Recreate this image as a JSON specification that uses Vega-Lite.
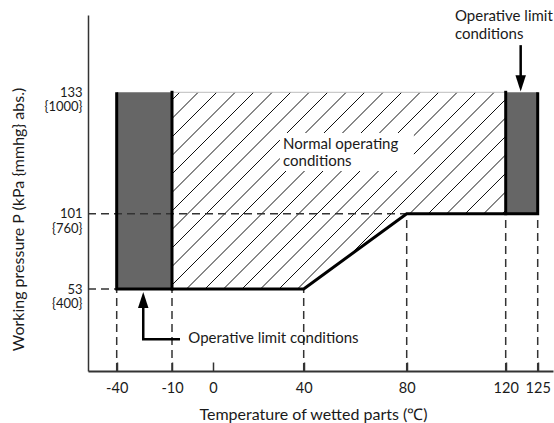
{
  "$schema": "https://vega.github.io/schema/vega-lite/v6.json",
  "width": 465,
  "height": 356,
  "autosize": {"type": "none"},
  "padding": {"left": 88, "top": 15, "right": 1, "bottom": 52},
  "background": "white",
  "config": {"font": "Lato", "view": {"stroke": null}},
  "datasets": {
    "gray": [
      {"x": -40, "x2": -10, "y": 53, "y2": 133},
      {"x": 120, "x2": 125, "y": 101, "y2": 133}
    ],
    "hatch": [
      {"x": -8.12, "y": 133, "x2": -10, "y2": 130.97},
      {"x": -3.61, "y": 133, "x2": -10, "y2": 126.09},
      {"x": 1.63, "y": 133, "x2": -10, "y2": 121.22},
      {"x": 9.79, "y": 133, "x2": -10, "y2": 116.34},
      {"x": 17.95, "y": 133, "x2": -10, "y2": 111.46},
      {"x": 26.11, "y": 133, "x2": -10, "y2": 106.59},
      {"x": 34.27, "y": 133, "x2": -10, "y2": 101.71},
      {"x": 42.14, "y": 133, "x2": -10, "y2": 90.93},
      {"x": 49.32, "y": 133, "x2": -10, "y2": 79.14},
      {"x": 56.5, "y": 133, "x2": -10, "y2": 67.34},
      {"x": 63.69, "y": 133, "x2": -10, "y2": 55.55},
      {"x": 70.87, "y": 133, "x2": -6.46, "y2": 53},
      {"x": 78.06, "y": 133, "x2": -1.95, "y2": 53},
      {"x": 85.45, "y": 133, "x2": 4.63, "y2": 53},
      {"x": 92.93, "y": 133, "x2": 12.79, "y2": 53},
      {"x": 100.4, "y": 133, "x2": 20.95, "y2": 53},
      {"x": 107.88, "y": 133, "x2": 29.11, "y2": 53},
      {"x": 115.35, "y": 133, "x2": 37.27, "y2": 53},
      {"x": 120, "y": 131.15, "x2": 57.76, "y2": 74.31},
      {"x": 120, "y": 126.28, "x2": 81.25, "y2": 101},
      {"x": 120, "y": 121.4, "x2": 88.73, "y2": 101},
      {"x": 120, "y": 116.53, "x2": 96.2, "y2": 101},
      {"x": 120, "y": 111.65, "x2": 103.68, "y2": 101},
      {"x": 120, "y": 106.77, "x2": 111.15, "y2": 101},
      {"x": 120, "y": 101.9, "x2": 118.63, "y2": 101}
    ],
    "topedge": [{"x": -10, "x2": 120, "y": 133, "y2": 133}],
    "clear": [{"x": 29.5, "x2": 82.9, "y": 112.25, "y2": 122.27}],
    "dash": [
      {"x": -55.6, "x2": 80, "y": 101, "y2": 101},
      {"x": -55.6, "x2": -40, "y": 53, "y2": 53},
      {"x": -40, "x2": -40, "y": 0, "y2": 53},
      {"x": -10, "x2": -10, "y": 0, "y2": 53},
      {"x": 40, "x2": 40, "y": 0, "y2": 53},
      {"x": 80, "x2": 80, "y": 0, "y2": 101},
      {"x": 120, "x2": 120, "y": 0, "y2": 101},
      {"x": 125, "x2": 125, "y": 0, "y2": 101}
    ],
    "edges": [
      {"x": -10, "x2": -10, "y": 53, "y2": 133},
      {"x": 120, "x2": 120, "y": 101, "y2": 133}
    ],
    "outline": [
      {"o": 1, "x": -40, "y": 133},
      {"o": 2, "x": -40, "y": 53},
      {"o": 3, "x": 40, "y": 53},
      {"o": 4, "x": 80, "y": 101},
      {"o": 5, "x": 125, "y": 101},
      {"o": 6, "x": 125, "y": 133}
    ],
    "shafts": [
      {"g": "a", "o": 1, "x": -8.05, "y": 20.5},
      {"g": "a", "o": 2, "x": -25.6, "y": 20.5},
      {"g": "a", "o": 3, "x": -25.6, "y": 41.5},
      {"g": "b", "o": 1, "x": 122.34, "y": 145.2},
      {"g": "b", "o": 2, "x": 122.34, "y": 136.5}
    ],
    "heads": [
      {"dir": "up", "x": -25.6, "y": 45.9},
      {"dir": "down", "x": 122.34, "y": 135.3}
    ],
    "labels": [
      {"x": 30.87, "y": 119.5, "label": "Normal operating"},
      {"x": 30.87, "y": 114.9, "label": "conditions"},
      {"x": 99.5, "y": 152.87, "label": "Operative limit"},
      {"x": 99.5, "y": 148.08, "label": "conditions"},
      {"x": -6.02, "y": 21.1, "label": "Operative limit conditions"}
    ]
  },
  "encoding": {
    "x": {
      "field": "x",
      "type": "quantitative",
      "scale": {
        "type": "linear",
        "domain": [-55.6, -40, -10, 0, 40, 80, 120, 125, 127.4],
        "range": [0, 28.7, 84, 125, 215.7, 318.7, 417.7, 449.7, 465],
        "zero": false,
        "nice": false
      },
      "axis": {
        "values": [-40, -10, 0, 40, 80, 120, 125],
        "labelExpr": "datum.value < 0 ? '-' + abs(datum.value) : '' + datum.value",
        "grid": false,
        "labelFontSize": 14.5,
        "labelColor": "#1a1a1a",
        "labelOverlap": false,
        "labelFlush": false,
        "labelPadding": 19,
        "tickSize": -9,
        "tickColor": "#333",
        "tickWidth": 1.5,
        "domainColor": "#333",
        "domainWidth": 1.8,
        "title": "Temperature of wetted parts (℃)",
        "titleFontSize": 16,
        "titleFontWeight": "normal",
        "titleColor": "#1a1a1a",
        "titleX": 225,
        "titleY": 43,
        "titleBaseline": "middle",
        "titleAlign": "center"
      }
    },
    "y": {
      "field": "y",
      "type": "quantitative",
      "scale": {
        "type": "linear",
        "domain": [0, 53, 101, 133, 153],
        "range": [356, 274, 198.7, 77.3, 0],
        "zero": false,
        "nice": false
      },
      "axis": {
        "values": [53, 101, 133],
        "grid": false,
        "ticks": false,
        "labelExpr": "datum.value == 133 ? ['133','{1000}'] : datum.value == 101 ? ['101','{760}'] : ['53','{400}']",
        "labelFontSize": 13,
        "labelLineHeight": 14.5,
        "labelColor": "#1a1a1a",
        "labelAlign": "right",
        "labelBaseline": "middle",
        "labelPadding": 6,
        "labelOverlap": false,
        "labelFlush": false,
        "domainColor": "#333",
        "domainWidth": 1.5,
        "title": "Working pressure P (kPa {mmhg} abs.)",
        "titleFontSize": 16,
        "titleFontWeight": "normal",
        "titleColor": "#1a1a1a",
        "titleX": -70,
        "titleY": 204,
        "titleAngle": -90,
        "titleBaseline": "middle",
        "titleAlign": "center"
      }
    }
  },
  "layer": [
    {
      "data": {"name": "gray"},
      "mark": {"type": "rect", "fill": "#666666", "stroke": null},
      "encoding": {"x2": {"field": "x2"}, "y2": {"field": "y2"}}
    },
    {
      "data": {"name": "hatch"},
      "mark": {"type": "rule", "stroke": "#111", "strokeWidth": 1},
      "encoding": {"x2": {"field": "x2"}, "y2": {"field": "y2"}}
    },
    {
      "data": {"name": "topedge"},
      "mark": {"type": "rule", "stroke": "#bdbdbd", "strokeWidth": 1},
      "encoding": {"x2": {"field": "x2"}, "y2": {"field": "y2"}}
    },
    {
      "data": {"name": "clear"},
      "mark": {"type": "rect", "fill": "white", "stroke": null},
      "encoding": {"x2": {"field": "x2"}, "y2": {"field": "y2"}}
    },
    {
      "data": {"name": "dash"},
      "mark": {"type": "rule", "stroke": "#333", "strokeWidth": 1.5, "strokeDash": [8, 5]},
      "encoding": {"x2": {"field": "x2"}, "y2": {"field": "y2"}}
    },
    {
      "data": {"name": "edges"},
      "mark": {"type": "rule", "stroke": "#000", "strokeWidth": 3, "strokeCap": "square"},
      "encoding": {"x2": {"field": "x2"}, "y2": {"field": "y2"}}
    },
    {
      "data": {"name": "outline"},
      "mark": {"type": "line", "stroke": "#000", "strokeWidth": 3, "strokeJoin": "miter", "interpolate": "linear"},
      "encoding": {"order": {"field": "o", "type": "quantitative"}}
    },
    {
      "data": {"name": "shafts"},
      "mark": {"type": "line", "stroke": "#000", "strokeWidth": 2.5, "strokeJoin": "miter"},
      "encoding": {
        "detail": {"field": "g", "type": "nominal"},
        "order": {"field": "o", "type": "quantitative"}
      }
    },
    {
      "data": {"name": "heads"},
      "mark": {"type": "point", "filled": true, "fill": "#000", "stroke": null, "opacity": 1, "size": 260},
      "encoding": {
        "shape": {
          "field": "dir",
          "type": "nominal",
          "scale": {"domain": ["up", "down"], "range": ["M0,-1L0.65,1L-0.65,1Z", "M0,1L0.65,-1L-0.65,-1Z"]},
          "legend": null
        }
      }
    },
    {
      "data": {"name": "labels"},
      "mark": {"type": "text", "align": "left", "baseline": "middle", "fontSize": 15, "color": "#1a1a1a"},
      "encoding": {"text": {"field": "label", "type": "nominal"}}
    }
  ]
}
